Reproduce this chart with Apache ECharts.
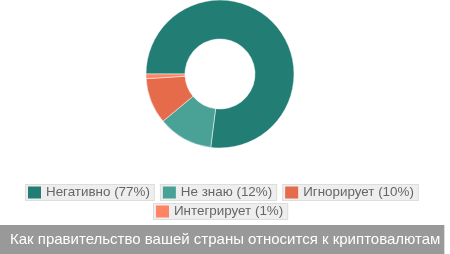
<!DOCTYPE html>
<html><head><meta charset="utf-8">
<script src="https://cdn.jsdelivr.net/npm/echarts@6/dist/echarts.min.js"></script>
<style>html,body{margin:0;padding:0;background:#fff}#c{width:450px;height:254px}</style>
</head><body><div id="c"></div>
<script>
const categories = ['Негативно', 'Не знаю', 'Игнорирует', 'Интегрирует'];
const values = [77, 12, 10, 1];
const colors = ['#227e74', '#4aa297', '#e56b4b', '#fe8464'];
const titleText = 'Как правительство вашей страны относится к криптовалютам';

const chart = echarts.init(document.getElementById('c'), null, {renderer: 'canvas'});
const rich = { t: { color: '#666', fontSize: 13.4, fontFamily: 'Liberation Sans, Arial, sans-serif', padding: [0, 0, 0, 5] } };
colors.forEach((c, i) => { rich['i' + i] = { backgroundColor: c, width: 13, height: 12 }; });

const legendBase = {
  padding: 0,
  itemWidth: 0, itemHeight: 0, itemGap: 0,
  icon: 'rect',
  formatter: name => {
    const i = categories.indexOf(name);
    return '{i' + i + '|}{t|' + name + ' (' + values[i] + '%)}';
  },
  textStyle: {
    backgroundColor: '#eeeeee', borderColor: '#dddddd', borderWidth: 1,
    padding: [1, 4, 1, 2], rich: rich
  }
};

chart.setOption({
  animation: false,
  title: {
    text: titleText,
    left: 0, bottom: 0,
    backgroundColor: '#999999',
    padding: [7, 4, 7, 10],
    textStyle: { color: '#fff', fontSize: 15, fontWeight: 'normal', fontFamily: 'Liberation Sans, Arial, sans-serif', lineHeight: 15 }
  },
  legend: [
    Object.assign({}, legendBase, { data: categories.slice(0, 3), left: 20, top: 184 }),
    Object.assign({}, legendBase, { data: categories.slice(3), left: 148, top: 203 })
  ],
  series: [{
    type: 'pie',
    center: [220, 74],
    radius: [35, 74],
    startAngle: 180,
    clockwise: true,
    label: { show: false },
    labelLine: { show: false },
    itemStyle: { borderColor: '#fff', borderWidth: 0.5 },
    emphasis: { disabled: true },
    data: categories.map((n, i) => ({ name: n, value: values[i], itemStyle: { color: colors[i] } }))
  }]
});
</script></body></html>
